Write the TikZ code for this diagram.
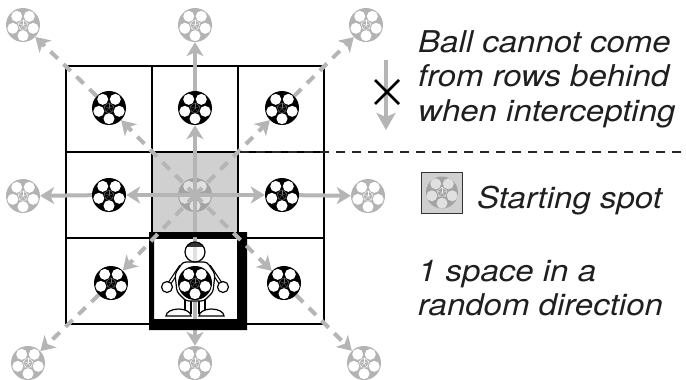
\documentclass[tikz,border=0pt]{standalone}
\usepackage{fontspec}
\newfontfamily\notefont[FakeStretch=1.1]{TeX Gyre Heros}
\usetikzlibrary{arrows.meta,calc}

\definecolor{lane}{HTML}{B5B5B5}
\definecolor{startcell}{HTML}{D0D0D0}
\definecolor{ghost}{HTML}{B3B3B3}
\definecolor{faded}{HTML}{A3A3A3}

\pgfdeclarelayer{board}
\pgfdeclarelayer{lanes}
\pgfsetlayers{board,lanes,main}

% white patches and the seams of the middle pentagon
\newcommand\ballface[2]{%
  \foreach \a in {18,90,162,234,306}
    \fill[#1] ($(path picture bounding box.center)+(\a:10.7)$) circle (5.5);
  \draw[#2, line width=0.4pt] ($(path picture bounding box.center)+(270:5.2)$)
    \foreach \a in {342,54,126,198} { -- ($(path picture bounding box.center)+(\a:5.2)$) } -- cycle;
  \foreach \a in {270,342,54,126,198}
    \draw[#2, line width=0.3pt] (path picture bounding box.center) -- +(\a:5.2);
}

\tikzset{
  ball/.style={circle, minimum size=34pt, inner sep=0pt, fill=black,
    path picture={\ballface{white}{black!55}}},
  ghostball/.style={ball, fill=ghost, path picture={\ballface{white}{white}}},
  fadedball/.style={ball, fill=faded, path picture={\ballface{black!12}{black!8}}},
  move/.style={lane, line width=4pt, -{Stealth[length=14pt, width=17pt, inset=4pt]}},
  diag/.style={move, dash pattern=on 10pt off 8pt},
  note/.style={font=\notefont\itshape\fontsize{30}{34.5}\selectfont, align=left,
    inner sep=0pt, text=black!88},
}

\begin{document}
\begin{tikzpicture}[x=1pt, y=-1pt]
\useasboundingbox (0,0) rectangle (686,380);

% the 3x3 board
\begin{pgfonlayer}{board}
\fill[startcell] (152,152) rectangle (238,238);
\foreach \k in {66,152,238,324} {
  \draw[line width=1.1pt] (\k,66) -- (\k,324);
  \draw[line width=1.1pt] (66,\k) -- (324,\k);
}
\node[fadedball] (ctr) at (195,195) {};
\end{pgfonlayer}

% balls one space away
\node[ball] (iul) at (109,108) {};
\node[ball] (iu)  at (195,108) {};
\node[ball] (iur) at (282,108) {};
\node[ball] (il)  at (109,195) {};
\node[ball] (ir)  at (282,195) {};
\node[ball] (idl) at (111,283) {};
\node[ball] (idr) at (284,283) {};

% balls two spaces away
\node[ghostball] (oul) at (23,25) {};
\node[ghostball] (ou)  at (195,25) {};
\node[ghostball] (our) at (366,25) {};
\node[ghostball] (ol)  at (23,196) {};
\node[ghostball] (or)  at (368,196) {};
\node[ghostball] (odl) at (28,363) {};
\node[ghostball] (od)  at (195,363) {};
\node[ghostball] (odr) at (364,363) {};

\begin{pgfonlayer}{lanes}
\draw[move] (ctr.center) -- (od);
% keeper's square
\fill[black, even odd rule] (149,232) rectangle (247,330) (154,237) rectangle (237,319);
\foreach \i/\o in {iu/ou, il/ol, ir/or} {
  \draw[move] (ctr.center) -- (\i);
  \draw[move] (\i) -- (\o);
}
\foreach \i/\o in {iul/oul, iur/our, idl/odl, idr/odr} {
  \draw[diag] (ctr.center) -- (\i);
  \draw[diag] (\i) -- (\o);
}
\end{pgfonlayer}

% keeper holding the ball
\draw[line width=4pt] (181,266) -- (167,287) (209,266) -- (223,287);
\draw[white, line width=1.6pt] (181,266) -- (167,287) (209,266) -- (223,287);
\filldraw[fill=white, line width=1.2pt] (167,287) circle (5.5) (223,287) circle (5.5);
\filldraw[fill=white, line width=1.2pt] (185,295) rectangle (191,313) (199,295) rectangle (205,313);
\filldraw[fill=white, line width=1.2pt] (166,316) arc (180:360:12.5 and 7) -- cycle;
\filldraw[fill=white, line width=1.2pt] (199,316) arc (180:360:12.5 and 7) -- cycle;
\filldraw[fill=white, line width=1.2pt, rounded corners=3pt]
  (183,262) -- (207,262) -- (215,274) -- (213,292) -- (204,301)
  -- (186,301) -- (177,292) -- (175,274) -- cycle;
\node[ball] (hold) at (195,283) {};
\fill[white, opacity=0.6] (195,252) circle (10);
\begin{scope}
  \clip (195,252) circle (10);
  \fill[black!80] (184,241) rectangle (206,247);
\end{scope}
\draw[line width=1.2pt] (195,252) circle (10);

% rule about the rows behind
\coordinate (back-top) at (386,60);
\coordinate (back-end) at (386,130);
\draw[lane, line width=3.5pt, -{Stealth[length=17pt, width=19pt, inset=4pt]}] (back-top) -- (back-end);
\draw[line width=2.8pt] (375,80) -- (399,104) (375,104) -- (399,80);
\node[note, anchor=base west] (behind) at (418,121) {Ball cannot come\\from rows behind\\when intercepting};

\coordinate (rule-l) at (240,152);
\coordinate (rule-r) at (686,152);
\draw[black!85, line width=1.4pt, dash pattern=on 9pt off 7pt] (rule-l) -- (rule-r);

% legend
\node[draw=black!80, fill=startcell, line width=0.8pt, minimum size=41pt, inner sep=0pt] (key) at (442,192.5) {};
\node[fadedball, minimum size=32pt] (keyball) at (key) {};
\node[note, anchor=base west] (keytext) at (477,208) {Starting spot};
\node[note, anchor=base west] (random) at (418,315.5) {1 space in a\\random direction};
\end{tikzpicture}
\end{document}
